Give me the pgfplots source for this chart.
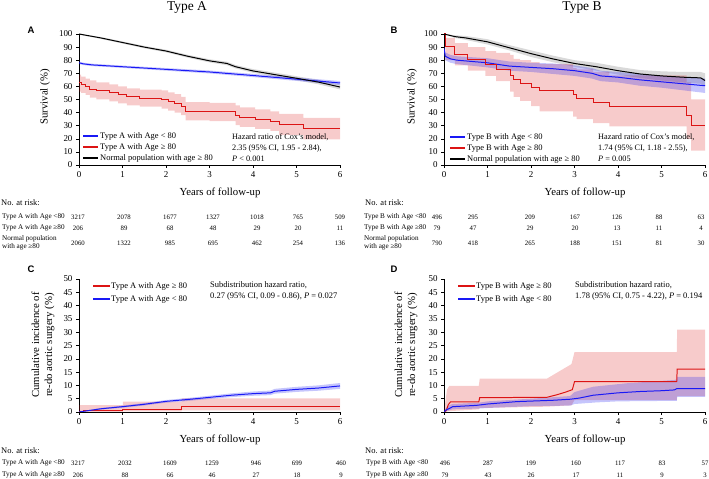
\documentclass[border=0pt]{standalone}
\usepackage{pgfplots}
\pgfplotsset{compat=1.18}
\usepackage{pgfplotstable}
\usepgfplotslibrary{fillbetween}
\usepackage{fontspec}
\setmainfont{Liberation Serif}
\newfontfamily\sansb{Liberation Sans}

\definecolor{kmred}{RGB}{220,20,20}
\definecolor{kmblue}{RGB}{25,25,245}

\newcommand{\tabfont}{\fontsize{7.2}{8}\selectfont}
\newcommand{\numfont}{\fontsize{6.8}{8}\selectfont}
\newcommand{\labfont}{\fontsize{10.8}{13}\selectfont}
\newcommand{\legfont}{\fontsize{8.5}{9}\selectfont}

\pgfplotstableread{
x y lo hi
0 63 56 69
0.05 61.5 55 67.5
0.15 60 53.5 66
0.25 58 51.5 64.5
0.4 56.5 50 63
0.7 55 48.5 61.5
0.9 53.5 47 60
1.1 52 45.5 58.5
1.4 51 44.5 57.5
1.9 50 43 57
2.05 48.5 41.5 55.5
2.2 47 40 54
2.35 45 38 52
2.45 41 34 48
3.0 40.5 33.5 47.5
3.6 38 30.5 45.5
3.7 36.5 29 44
4.05 35 27.5 42.5
4.4 33.5 26 41
4.6 31 23 39
5.16 27.5 19.5 36
6 27.5 19.5 36
}\redA
\pgfplotstableread{
x y lo hi
0 78 77 79
0.1 77.2 76.3 78.1
0.3 76.4 75.5 77.3
1 75 74.1 75.9
2 73 72 74
3 71 69.9 72.1
4 68.3 67.1 69.5
5 65.5 64.2 66.8
6 62.6 61.1 64.1
}\blueA
\pgfplotstableread{
x y lo hi
0 100 99.5 100
0.5 97 96.3 97.7
1 93.5 92.7 94.3
1.5 90 89.1 90.9
2 87 86 88
2.5 83 81.9 84.1
3 79.5 78.3 80.7
3.4 77.5 76.2 78.8
3.6 75 73.7 76.3
4 71.8 70.4 73.2
4.5 69 67.5 70.5
5 66.2 64.6 67.8
5.5 63.3 61.6 65
6 59.5 57.7 61.3
}\blackA
\pgfplotstableread{
x y lo hi
0 100 100 100
0.03 90.5 80 97
0.25 84 76 93
0.55 80.5 72 90
0.95 76.5 68 87
1.2 73 64 85.5
1.52 68 56 84
1.6 65 52 81
1.75 62.5 49 80
2.0 59 45 78.5
2.2 56.5 41 77
2.97 53.5 37 74
3.05 51 35 73
3.43 47.5 32 71
3.8 44.5 29.5 68.5
5.58 38 20 63
5.68 30.5 11 50
6 30.5 11 50
}\redB
\pgfplotstableread{
x y lo hi
0 89 86 92
0.03 83 80 86
0.15 81 78 84
0.3 80 77 83
1 78 74.5 81.5
1.5 75.5 72 79
2 74.5 71 78
2.5 73.5 69.5 77.5
3 72 68 76
3.4 70 66 74
3.6 68 64 72
4 67 63 71
4.5 65 60.5 69.5
5 63.5 59 68
5.5 62 57 67
6 60.5 55 66
}\blueB
\pgfplotstableread{
x y lo hi
0 100 100 100
0.25 98 97 99
0.5 97 95.5 98.5
1 94 92 96
1.5 89.5 87.5 91.5
2 85 82.5 87.5
2.5 81 78.5 83.5
3 77.5 75 80
3.5 75 72 78
4 72 69 75
4.5 69.5 66.5 72.5
5 68 64.5 71.5
5.5 67 63 71
5.9 66.5 62 71
6 64.5 60 70
}\blackB
\pgfplotstableread{
x y lo hi
0 0 0 0
0.25 0.6 0.4 0.8
0.5 1.2 0.9 1.5
1 2 1.6 2.4
1.5 2.9 2.45 3.35
2 4 3.5 4.5
2.5 4.7 4.15 5.25
3 5.5 4.9 6.1
3.5 6.3 5.6 7.0
4 6.9 6.1 7.7
4.4 7.2 6.35 8.05
4.5 7.8 6.9 8.7
5 8.5 7.55 9.45
5.5 9 8 10
6 9.8 8.7 10.9
}\blueC
\pgfplotstableread{
x y lo hi
0 0 0 2.6
0.1 0.4 0 2.6
1.01 1.1 0.2 3.9
2.36 2.2 0.6 5.1
6 2.2 0.6 5.1
}\redC

\pgfplotsset{
  km/.style={scale only axis, anchor=south west, width=261bp, xmin=0, xmax=6, ymin=0,
    axis lines=left, axis line style={-, black, line width=0.5pt},
    xtick={0,...,6}, tick align=outside, major tick length=3bp,
    tick style={black, line width=0.5pt},
    ticklabel style={font=\fontsize{9}{10}\selectfont},
    /pgf/number format/assume math mode=true,
  },
  surv/.style={km, height=131bp, ymax=100, ytick={0,10,...,100}},
  cuminc/.style={km, height=133bp, ymax=50, ytick={0,5,...,50}},
  band/.style={draw=none, forget plot},
  kml/.style={line width=1pt},
}

\begin{document}
\begin{tikzpicture}[x=1bp,y=1bp]

% ---------- Panel A ----------
\begin{axis}[surv, at={(79bp,314bp)}]
\addplot[band, name path=kAh] table[x=x,y=hi]{\blackA};
\addplot[band, name path=kAl] table[x=x,y=lo]{\blackA};
\addplot[fill=black, fill opacity=0.15, forget plot] fill between[of=kAh and kAl];
\addplot[band, name path=bAh] table[x=x,y=hi]{\blueA};
\addplot[band, name path=bAl] table[x=x,y=lo]{\blueA};
\addplot[fill=kmblue, fill opacity=0.25, forget plot] fill between[of=bAh and bAl];
\addplot[band, const plot, name path=rAh] table[x=x,y=hi]{\redA};
\addplot[band, const plot, name path=rAl] table[x=x,y=lo]{\redA};
\addplot[fill=kmred, fill opacity=0.22, forget plot] fill between[of=rAh and rAl];
\addplot[kml, color=kmblue] table[x=x,y=y]{\blueA};
\addplot[kml, color=kmred, const plot] table[x=x,y=y]{\redA};
\addplot[kml, color=black] table[x=x,y=y]{\blackA};
\end{axis}

% ---------- Panel B ----------
\begin{axis}[surv, at={(444bp,314bp)}]
\addplot[band, name path=kBh] table[x=x,y=hi]{\blackB};
\addplot[band, name path=kBl] table[x=x,y=lo]{\blackB};
\addplot[fill=black, fill opacity=0.15, forget plot] fill between[of=kBh and kBl];
\addplot[band, const plot, name path=rBh] table[x=x,y=hi]{\redB};
\addplot[band, const plot, name path=rBl] table[x=x,y=lo]{\redB};
\addplot[fill=kmred, fill opacity=0.22, forget plot] fill between[of=rBh and rBl];
\addplot[band, name path=bBh] table[x=x,y=hi]{\blueB};
\addplot[band, name path=bBl] table[x=x,y=lo]{\blueB};
\addplot[fill=kmblue, fill opacity=0.25, forget plot] fill between[of=bBh and bBl];
\addplot[kml, color=kmblue] table[x=x,y=y]{\blueB};
\addplot[kml, color=kmred, const plot] table[x=x,y=y]{\redB};
\addplot[kml, color=black] table[x=x,y=y]{\blackB};
\end{axis}

% ---------- Panel C ----------
\begin{axis}[cuminc, at={(79bp,67bp)}]
\addplot[band, const plot, name path=rCh] table[x=x,y=hi]{\redC};
\addplot[band, const plot, name path=rCl] table[x=x,y=lo]{\redC};
\addplot[fill=kmred, fill opacity=0.22, forget plot] fill between[of=rCh and rCl];
\addplot[band, name path=bCh] table[x=x,y=hi]{\blueC};
\addplot[band, name path=bCl] table[x=x,y=lo]{\blueC};
\addplot[fill=kmblue, fill opacity=0.25, forget plot] fill between[of=bCh and bCl];
\addplot[kml, color=kmred, const plot] table[x=x,y=y]{\redC};
\addplot[kml, color=kmblue] table[x=x,y=y]{\blueC};
\end{axis}

% ---------- Panel D ----------
\begin{axis}[cuminc, at={(444bp,67bp)}]
\addplot[band, name path=rDh] coordinates {(0,0) (0.07,8.5) (0.12,9.8) (0.8,9.8) (0.82,12.5) (2.36,12.5) (2.93,18) (3.0,22.5) (5.35,22.5) (5.36,31) (6,31)};
\addplot[band, name path=rDl] coordinates {(0,0) (0.1,0.3) (0.8,1) (0.82,1.5) (2.36,2) (2.93,2.5) (3.0,4.5) (5.35,4.5) (5.36,6) (6,6)};
\addplot[fill=kmred, fill opacity=0.22, forget plot] fill between[of=rDh and rDl];
\addplot[band, name path=bDh] coordinates {(0,0.5) (0.1,2.5) (0.2,3) (0.8,3.5) (1,4) (2,5) (2.9,6) (3,7.5) (3.43,9.5) (4.2,10.8) (5.27,12) (5.35,12.2) (5.36,13.2) (6,13.2)};
\addplot[band, name path=bDl] coordinates {(0,0) (0.2,1) (0.8,1.3) (1,1.5) (2,2.2) (2.9,2.4) (3.0,3) (3.5,3.6) (4,4) (5.35,4.2) (5.36,5.7) (6,5.7)};
\addplot[fill=kmblue, fill opacity=0.25, forget plot] fill between[of=bDh and bDl];
\addplot[kml, color=kmred] coordinates {(0,0) (0.05,0.5) (0.1,2.8) (0.15,3.8) (0.8,3.8) (0.82,5.4) (2.36,5.5) (2.6,6.5) (2.8,7.5) (2.95,8.4) (3.0,11.4) (5.35,11.4) (5.36,16.1) (6,16.1)};
\addplot[kml, color=kmblue] coordinates {(0,0) (0.05,0.8) (0.12,1.3) (0.2,2) (0.75,2.5) (1,3) (1.67,3.9) (2,4.1) (2.5,4.4) (2.9,4.8) (3.1,5.2) (3.28,5.8) (3.43,6.3) (4,7.2) (4.5,7.7) (5,8) (5.3,8.3) (5.35,8.8) (6,8.8)};
\end{axis}

% ---------- legends (keys + text) ----------
\begin{scope}[every node/.style={inner sep=0pt, anchor=west, font=\legfont}]
% A
\draw[kmblue, line width=1.1pt] (83,479-136) -- (98,479-136);
\node at (100,479-136) {Type A with Age < 80};
\draw[kmred, line width=1.1pt] (83,479-147) -- (98,479-147);
\node at (100,479-147) {Type A with Age ≥ 80};
\draw[black, line width=1.1pt] (83,479-158) -- (98,479-158);
\node at (100,479-158) {Normal population with age ≥ 80};
% B
\draw[kmblue, line width=1.1pt] (450,479-137) -- (465,479-137);
\node at (467,479-137) {Type B with Age < 80};
\draw[kmred, line width=1.1pt] (450,479-148) -- (465,479-148);
\node at (467,479-148) {Type B with Age ≥ 80};
\draw[black, line width=1.1pt] (450,479-159) -- (465,479-159);
\node at (467,479-159) {Normal population with age ≥ 80};
% C
\draw[kmred, line width=1.1pt] (93,479-286) -- (110,479-286);
\node at (111,479-286) {Type A with Age ≥ 80};
\draw[kmblue, line width=1.1pt] (93,479-299) -- (110,479-299);
\node at (111,479-299) {Type A with Age < 80};
% D
\draw[kmred, line width=1.1pt] (458,479-286) -- (475,479-286);
\node at (476,479-286) {Type B with Age ≥ 80};
\draw[kmblue, line width=1.1pt] (458,479-299) -- (475,479-299);
\node at (476,479-299) {Type B with Age < 80};
\end{scope}

% ---------- titles, letters, labels ----------
\node[font=\fontsize{13.5}{15}\selectfont] at (187,479-8) {Type A};
\node[font=\fontsize{13.5}{15}\selectfont] at (582,479-8) {Type B};
\node[font=\sansb\bfseries\fontsize{9.5}{11}\selectfont] at (31,479-30) {A};
\node[font=\sansb\bfseries\fontsize{9.5}{11}\selectfont] at (394,479-30) {B};
\node[font=\sansb\bfseries\fontsize{9.5}{11}\selectfont] at (31,479-269) {C};
\node[font=\sansb\bfseries\fontsize{9.5}{11}\selectfont] at (394,479-269) {D};

\node[rotate=90, font=\labfont] at (45,479-97) {Survival (\%)};
\node[rotate=90, font=\labfont] at (412,479-97) {Survival (\%)};
\node[rotate=90, font=\labfont, align=center] at (43,479-345) {Cumulative incidence of\\re-do aortic surgery (\%)};
\node[rotate=90, font=\labfont, align=center] at (406,479-345) {Cumulative incidence of\\re-do aortic surgery (\%)};
\node[font=\labfont] at (220,479-193) {Years of follow-up};
\node[font=\labfont] at (585,479-193) {Years of follow-up};
\node[font=\labfont] at (220,479-440) {Years of follow-up};
\node[font=\labfont] at (585,479-440) {Years of follow-up};

% HR texts
\node[anchor=west, align=left, font=\fontsize{8.3}{11}\selectfont, inner sep=0pt] at (232,479-148) {Hazard ratio of Cox's model,\\2.35 (95\% CI, 1.95 - 2.84),\\\textit{P} < 0.001};
\node[anchor=west, align=left, font=\fontsize{8.3}{11}\selectfont, inner sep=0pt] at (598,479-148) {Hazard ratio of Cox's model,\\1.74 (95\% CI, 1.18 - 2.55),\\\textit{P} = 0.005};
\node[anchor=west, align=left, font=\fontsize{8.5}{10.5}\selectfont, inner sep=0pt] at (210,479-291) {Subdistribution hazard ratio,\\0.27 (95\% CI, 0.09 - 0.86), \textit{P} = 0.027};
\node[anchor=west, align=left, font=\fontsize{8.5}{10.5}\selectfont, inner sep=0pt] at (575,479-291) {Subdistribution hazard ratio,\\1.78 (95\% CI, 0.75 - 4.22), \textit{P} = 0.194};

% ---------- risk tables ----------
\begin{scope}[every node/.style={inner sep=0pt}]
% A
\node[anchor=west, font=\fontsize{8.5}{10}\selectfont] at (1,479-203) {No. at risk:};
\node[anchor=west, font=\tabfont] at (2,479-217) {Type A with Age <80};
\node[anchor=west, font=\tabfont] at (2,479-228) {Type A with Age ≥80};
\node[anchor=west, font=\tabfont, align=left] at (2,479-243) {Normal population\\with age ≥80};
\foreach \xx/\vv in {78/3217,124/2078,170/1677,213/1327,257/1018,298/765,340/509} \node[font=\numfont] at (\xx,479-217) {\vv};
\foreach \xx/\vv in {78/206,124/89,170/68,213/48,257/29,298/20,340/11} \node[font=\numfont] at (\xx,479-228) {\vv};
\foreach \xx/\vv in {78/2060,124/1322,170/985,213/695,257/462,298/254,340/136} \node[font=\numfont] at (\xx,479-243) {\vv};
% B
\node[anchor=west, font=\fontsize{8.5}{10}\selectfont] at (365,479-203) {No. at risk:};
\node[anchor=west, font=\tabfont] at (364,479-217) {Type B with Age <80};
\node[anchor=west, font=\tabfont] at (364,479-228) {Type B with Age ≥80};
\node[anchor=west, font=\tabfont, align=left] at (364,479-243) {Normal population\\with age ≥80};
\foreach \xx/\vv in {437/496,473/295,530/209,575/167,617/126,659/88,701/63} \node[font=\numfont] at (\xx,479-217) {\vv};
\foreach \xx/\vv in {437/79,473/47,530/29,575/20,617/13,659/11,701/4} \node[font=\numfont] at (\xx,479-228) {\vv};
\foreach \xx/\vv in {437/790,473/418,530/265,575/188,617/151,659/81,701/30} \node[font=\numfont] at (\xx,479-243) {\vv};
% C
\node[anchor=west, font=\fontsize{8.5}{10}\selectfont] at (1,479-451) {No. at risk:};
\node[anchor=west, font=\tabfont] at (2,479-463) {Type A with Age <80};
\node[anchor=west, font=\tabfont] at (2,479-475) {Type A with Age ≥80};
\foreach \xx/\vv in {78/3217,125/2032,170/1609,212/1259,256/946,297/699,341/460} \node[font=\numfont] at (\xx,479-463) {\vv};
\foreach \xx/\vv in {78/206,125/88,170/66,212/46,256/27,297/18,341/9} \node[font=\numfont] at (\xx,479-475) {\vv};
% D
\node[anchor=west, font=\fontsize{8.5}{10}\selectfont] at (365,479-451) {No. at risk:};
\node[anchor=west, font=\tabfont] at (366,479-463) {Type B with Age <80};
\node[anchor=west, font=\tabfont] at (366,479-475) {Type B with Age ≥80};
\foreach \xx/\vv in {445/496,488/287,531/199,576/160,620/117,662/83,705/57} \node[font=\numfont] at (\xx,479-463) {\vv};
\foreach \xx/\vv in {445/79,488/43,531/26,576/17,620/11,662/9,705/3} \node[font=\numfont] at (\xx,479-475) {\vv};
\end{scope}

\pgfresetboundingbox
\path[use as bounding box] (0,0) rectangle (709,479);
\end{tikzpicture}
\end{document}
